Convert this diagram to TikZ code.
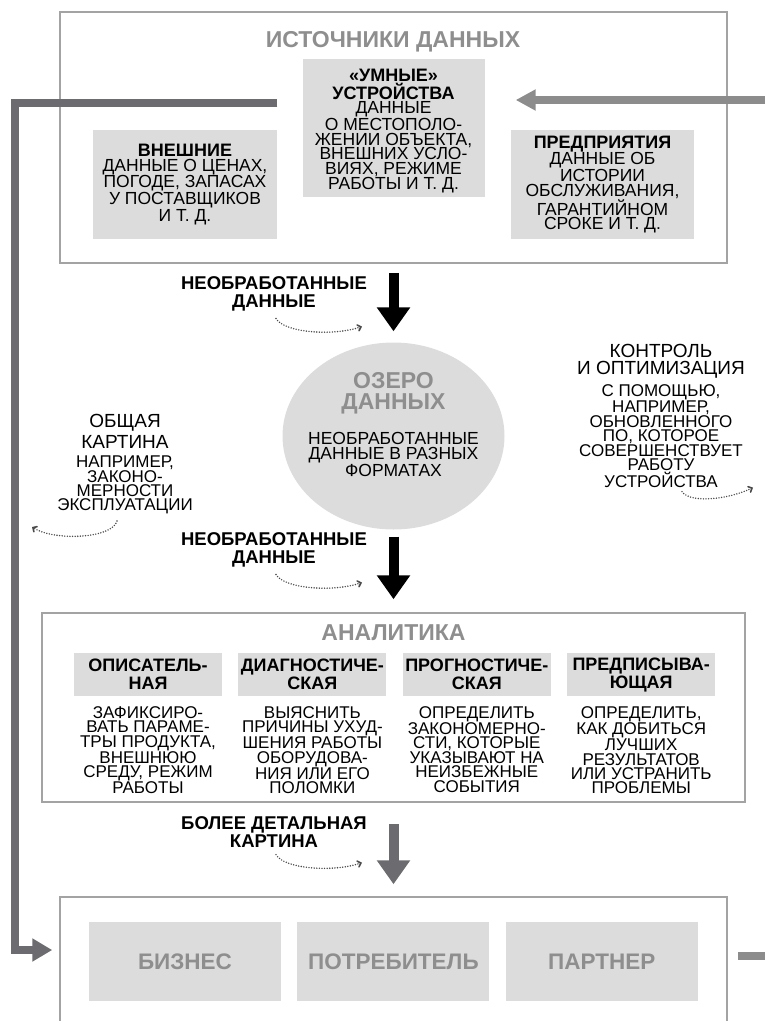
\documentclass[tikz,border=0pt]{standalone}
\usepackage{fontspec}
\setmainfont{Liberation Sans}
\usepackage{tikz}
\usetikzlibrary{arrows.meta,positioning,shapes.geometric,calc}
\definecolor{framegrey}{HTML}{A3A3A3}
\definecolor{boxgrey}{HTML}{DCDCDC}
\definecolor{titlegrey}{HTML}{8E8E8E}
\definecolor{flowdark}{HTML}{6C6C70}
\definecolor{flowmid}{HTML}{8C8C8C}
\definecolor{dotgrey}{HTML}{4A4A4A}
\newcommand{\boxhead}[1]{\textbf{\fontsize{18}{17}\selectfont #1}}
\newcommand{\notehead}[1]{{\fontsize{19}{17}\selectfont #1}}

\begin{document}
\begin{tikzpicture}[
  x=1pt,y=-1pt,
  font=\fontsize{17}{14.4}\selectfont,
  frame/.style={draw=framegrey,line width=1.5pt,inner sep=0pt},
  sectitle/.style={text=titlegrey,font=\bfseries\fontsize{23}{21}\selectfont,inner sep=0pt,align=center},
  srcbox/.style={fill=boxgrey,align=center,inner sep=0pt,font=\fontsize{17.5}{14.6}\selectfont},
  lake/.style={ellipse,fill=boxgrey,minimum width=222pt,minimum height=187pt,inner sep=0pt},
  colhead/.style={fill=boxgrey,align=center,inner sep=0pt,minimum width=148pt,
                  minimum height=43pt,font=\bfseries\fontsize{18}{18}\selectfont},
  coltext/.style={align=center,inner sep=0pt},
  userbox/.style={fill=boxgrey,text=titlegrey,font=\bfseries\fontsize{22.5}{21}\selectfont,
                  minimum width=192pt,minimum height=79pt,inner sep=0pt},
  rawlbl/.style={align=center,inner sep=0pt,font=\bfseries\fontsize{18.5}{18}\selectfont},
  sidenote/.style={align=center,inner sep=0pt,font=\fontsize{17}{14}\selectfont},
  bigar/.style={-{Triangle[length=24pt,width=32pt]},line width=10pt},
  flow/.style={-{Triangle[length=20pt,width=22pt]},draw=flowdark,line width=8pt},
  flowin/.style={-{Triangle[length=20pt,width=20pt]},draw=flowmid,line width=8pt},
  dotarc/.style={draw=dotgrey,line width=1.6pt,dash pattern=on 0pt off 2.6pt,line cap=round,
                 -{Straight Barb[length=3pt,width=6pt,line cap=round]}}
]
\useasboundingbox (0,0) rectangle (764,1021);

% data sources
\node[frame,minimum width=667pt,minimum height=251pt] (src) at (393.5,137.5) {};
\node[sectitle] (srctitle) at (393,42) {ИСТОЧНИКИ ДАННЫХ};
\node[srcbox,minimum width=182pt,minimum height=138pt] (smart) at (393.5,128) {};
\node[srcbox,fill=none] (smarttxt) at (393.5,131)
  {\boxhead{«УМНЫЕ»}\\\boxhead{УСТРОЙСТВА}\\ДАННЫЕ\\О МЕСТОПОЛО-\\ЖЕНИИ ОБЪЕКТА,\\ВНЕШНИХ УСЛО-\\ВИЯХ, РЕЖИМЕ\\РАБОТЫ И Т. Д.};
\node[srcbox,minimum width=184pt,minimum height=109pt] (ext) at (185,184.5)
  {\boxhead{ВНЕШНИЕ}\\ДАННЫЕ О ЦЕНАХ,\\ПОГОДЕ, ЗАПАСАХ\\У ПОСТАВЩИКОВ\\И Т. Д.};
\node[srcbox,minimum width=183pt,minimum height=109pt] (ent) at (602.5,184.5)
  {\boxhead{ПРЕДПРИЯТИЯ}\\ДАННЫЕ ОБ\\ИСТОРИИ\\ОБСЛУЖИВАНИЯ,\\ГАРАНТИЙНОМ\\СРОКЕ И Т. Д.};

% data lake
\node[lake] (lake) at (393.5,436) {};
\node[sectitle] (laketitle) at (393.5,393.5) {ОЗЕРО\\ДАННЫХ};
\node[coltext,font=\fontsize{17.5}{14.5}\selectfont] (laketext) at (393.5,454.5)
  {НЕОБРАБОТАННЫЕ\\ДАННЫЕ В РАЗНЫХ\\ФОРМАТАХ};
\node[rawlbl] (raw1) at (274,294) {НЕОБРАБОТАННЫЕ\\ДАННЫЕ};
\node[rawlbl] (raw2) at (274,550) {НЕОБРАБОТАННЫЕ\\ДАННЫЕ};

\node[sidenote] (overview) at (125,464)
  {\notehead{ОБЩАЯ}\\[3pt]\notehead{КАРТИНА}\\[5pt]НАПРИМЕР,\\ЗАКОНО-\\МЕРНОСТИ\\ЭКСПЛУАТАЦИИ};
\node[sidenote] (control) at (661,416)
  {\notehead{КОНТРОЛЬ}\\[3pt]\notehead{И ОПТИМИЗАЦИЯ}\\[5pt]С ПОМОЩЬЮ,\\НАПРИМЕР,\\ОБНОВЛЕННОГО\\ПО, КОТОРОЕ\\СОВЕРШЕНСТВУЕТ\\РАБОТУ\\УСТРОЙСТВА};

% analytics
\node[frame,minimum width=703pt,minimum height=189pt] (ana) at (393.5,707.5) {};
\node[sectitle] (anatitle) at (393.5,633) {АНАЛИТИКА};
\node[colhead] (desc) at (148,674.5) {ОПИСАТЕЛЬ-\\НАЯ};
\node[colhead,right=16pt of desc] (diag) {ДИАГНОСТИЧЕ-\\СКАЯ};
\node[colhead,right=16pt of diag] (prog) {ПРОГНОСТИЧЕ-\\СКАЯ};
\node[colhead,right=16pt of prog] (presc) {ПРЕДПИСЫВА-\\ЮЩАЯ};
\node[coltext,below=10pt of desc] (desctxt)
  {ЗАФИКСИРО-\\ВАТЬ ПАРАМЕ-\\ТРЫ ПРОДУКТА,\\ВНЕШНЮЮ\\СРЕДУ, РЕЖИМ\\РАБОТЫ};
\node[coltext,below=10pt of diag] (diagtxt)
  {ВЫЯСНИТЬ\\ПРИЧИНЫ УХУД-\\ШЕНИЯ РАБОТЫ\\ОБОРУДОВА-\\НИЯ ИЛИ ЕГО\\ПОЛОМКИ};
\node[coltext,below=10pt of prog] (progtxt)
  {ОПРЕДЕЛИТЬ\\ЗАКОНОМЕРНО-\\СТИ, КОТОРЫЕ\\УКАЗЫВАЮТ НА\\НЕИЗБЕЖНЫЕ\\СОБЫТИЯ};
\node[coltext,below=10pt of presc] (presctxt)
  {ОПРЕДЕЛИТЬ,\\КАК ДОБИТЬСЯ\\ЛУЧШИХ\\РЕЗУЛЬТАТОВ\\ИЛИ УСТРАНИТЬ\\ПРОБЛЕМЫ};
\node[rawlbl] (detail) at (274,832) {БОЛЕЕ ДЕТАЛЬНАЯ\\КАРТИНА};

% users of the results
\node[frame,minimum width=667pt,minimum height=140pt] (users) at (393.5,967) {};
\node[userbox] (biz) at (185,961.5) {БИЗНЕС};
\node[userbox,right=16pt of biz] (cons) {ПОТРЕБИТЕЛЬ};
\node[userbox,right=16pt of cons] (partner) {ПАРТНЕР};

% main flow
\draw[bigar,shorten <=9pt,shorten >=11pt] (src.south) -- (lake.north);
\draw[bigar,shorten <=7pt,shorten >=13pt] (lake.south) -- (ana.north);
\draw[bigar,draw=flowdark,shorten <=21pt,shorten >=12pt] (ana.south) -- (users.north);

% feedback loop
\coordinate (fbstart) at ([xshift=-25pt,yshift=25pt]smart.west);
\coordinate (fbcorner) at (15,103);
\coordinate (fbend) at ([xshift=-7pt,yshift=17pt]users.west);
\draw[flow] (fbstart) -- (fbcorner) |- (fbend);
\coordinate (fbin) at (775,100);
\draw[flowin] (fbin) -- ([xshift=31pt,yshift=28pt]smart.east);
\coordinate (fbout) at (775,956);
\draw[flowin,-] ([xshift=10pt,yshift=11pt]users.east) -- (fbout);

% dotted cycle hints
\draw[dotarc] ($(raw1.south)+(2,7)$) .. controls +(8,14) and +(-30,10) .. ($(raw1.south)+(88,15)$);
\draw[dotarc] ($(raw2.south)+(2,7)$) .. controls +(8,14) and +(-30,10) .. ($(raw2.south)+(88,15)$);
\draw[dotarc] ($(detail.south)+(2,7)$) .. controls +(8,14) and +(-30,10) .. ($(detail.south)+(88,15)$);
\draw[dotarc] ($(overview.south)+(-8,7)$) .. controls +(-5,18) and +(22,14) .. ($(overview.south)+(-93,13)$);
\draw[dotarc] ($(control.south)+(21,4)$) .. controls +(8,12) and +(-25,12) .. ($(control.south)+(92,0)$);
\end{tikzpicture}
\end{document}
